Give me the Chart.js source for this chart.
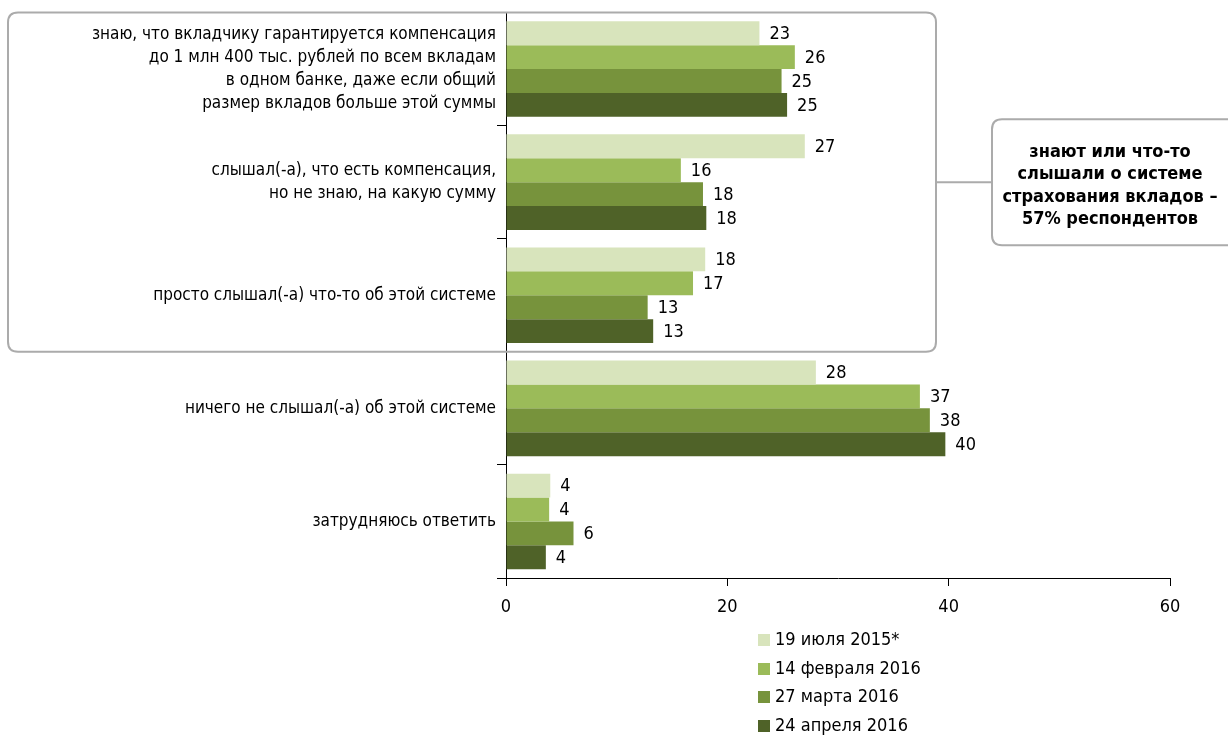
<!DOCTYPE html>
<html>
<head>
<meta charset="utf-8">
<script src="https://cdn.jsdelivr.net/npm/chart.js@4.4.0/dist/chart.umd.min.js"></script>
<style>
  body { margin: 0; background: #fff; }
  #wrap { position: relative; width: 1228px; height: 736px; overflow: hidden; }
  #legend { position: absolute; left: 758px; top: 627px; font-family: "Liberation Sans Narrow", "DejaVu Sans Condensed", sans-serif; font-size: 18px; color: #000; }
  #legend div { height: 28.5px; line-height: 24px; white-space: nowrap; }
  #legend span { display: inline-block; width: 12px; height: 12px; margin-right: 5px; vertical-align: -1px; }
</style>
</head>
<body>
<div id="wrap">
  <canvas id="chart" width="1228" height="736"></canvas>
  <div id="legend"></div>
</div>
<script>
// ---------- данные ----------
const categorias = [
  ["знаю, что вкладчику гарантируется компенсация", "до 1 млн 400 тыс. рублей по всем вкладам", "в одном банке, даже если общий", "размер вкладов больше этой суммы"],
  ["слышал(-а), что есть компенсация,", "но не знаю, на какую сумму"],
  "просто слышал(-а) что-то об этой системе",
  "ничего не слышал(-а) об этой системе",
  "затрудняюсь ответить"
];
const series = ["19 июля 2015*", "14 февраля 2016", "27 марта 2016", "24 апреля 2016"];
const julio2015 = [22.9, 27.0, 18.0, 28.0, 4.0];
const febrero2016 = [26.1, 15.8, 16.9, 37.4, 3.9];
const marzo2016 = [24.9, 17.8, 12.8, 38.3, 6.1];
const abril2016 = [25.4, 18.1, 13.3, 39.7, 3.6];
const ticksX = [0, 20, 40, 60];
const calloutTexto = ["знают или что-то", "слышали о системе", "страхования вкладов –", "57% респондентов"];

const colores = ["#d8e4bc", "#9bbb59", "#77933c", "#4f6228"];
const FONT = '"Liberation Sans Narrow", "DejaVu Sans Condensed", sans-serif';

// ---------- рамка и выноска ----------
function roundRect(ctx, x, y, w, h, r) {
  ctx.beginPath();
  ctx.moveTo(x + r, y);
  ctx.lineTo(x + w - r, y);
  ctx.quadraticCurveTo(x + w, y, x + w, y + r);
  ctx.lineTo(x + w, y + h - r);
  ctx.quadraticCurveTo(x + w, y + h, x + w - r, y + h);
  ctx.lineTo(x + r, y + h);
  ctx.quadraticCurveTo(x, y + h, x, y + h - r);
  ctx.lineTo(x, y + r);
  ctx.quadraticCurveTo(x, y, x + r, y);
  ctx.closePath();
}

const ramka = {
  id: "ramka",
  beforeDatasetsDraw(chart) {
    const ctx = chart.ctx;
    const y = chart.scales.y;
    // граница между 3-й и 4-й категорией
    const bottom = (y.getPixelForValue(2) + y.getPixelForValue(3)) / 2;
    const top = chart.chartArea.top;
    const right = 936;
    ctx.save();
    ctx.strokeStyle = "#ababab";
    ctx.lineWidth = 2;
    roundRect(ctx, 8, top, right - 8, bottom - top, 10);
    ctx.stroke();
    const midY = (top + bottom) / 2;
    ctx.beginPath();
    ctx.moveTo(right, midY);
    ctx.lineTo(992, midY);
    ctx.stroke();
    roundRect(ctx, 992, midY - 63, 260, 126, 10);
    ctx.fillStyle = "#fff";
    ctx.fill();
    ctx.stroke();
    ctx.fillStyle = "#000";
    ctx.font = "bold 18px " + FONT;
    ctx.textAlign = "center";
    ctx.textBaseline = "middle";
    calloutTexto.forEach((t, i) => ctx.fillText(t, 1110, midY - 30 + i * 22.5));
    ctx.restore();
  }
};

// ---------- подписи значений ----------
const subtitulos = {
  id: "subtitulos",
  afterDatasetsDraw(chart) {
    const ctx = chart.ctx;
    ctx.save();
    ctx.fillStyle = "#000";
    ctx.font = "18px " + FONT;
    ctx.textAlign = "left";
    ctx.textBaseline = "middle";
    chart.data.datasets.forEach((ds, i) => {
      chart.getDatasetMeta(i).data.forEach((bar, j) => {
        ctx.fillText(Math.round(ds.data[j]), bar.x + 10, bar.y + 1);
      });
    });
    ctx.restore();
  }
};

const datos = [julio2015, febrero2016, marzo2016, abril2016];

const chart = new Chart(document.getElementById("chart"), {
  type: "bar",
  data: {
    labels: categorias,
    datasets: series.map((s, i) => ({
      label: s,
      data: datos[i],
      backgroundColor: colores[i],
      borderWidth: 0,
      categoryPercentage: 0.845,
      barPercentage: 1
    }))
  },
  options: {
    indexAxis: "y",
    responsive: false,
    animation: false,
    layout: { padding: { top: 10, right: 58, left: 0, bottom: 0 } },
    plugins: {
      legend: { display: false },
      tooltip: { enabled: false }
    },
    scales: {
      x: {
        min: 0,
        max: 60,
        afterBuildTicks(s) { s.ticks = ticksX.map(v => ({ value: v })); },
        grid: { drawOnChartArea: false, drawTicks: true, tickLength: 8, color: "#000" },
        border: { color: "#000" },
        ticks: { color: "#000", padding: 11, font: { family: FONT, size: 18 } },
        afterFit(s) { s.height = 158; }
      },
      y: {
        grid: { drawOnChartArea: false, drawTicks: true, tickLength: 9, color: "#000", offset: true },
        border: { color: "#000" },
        ticks: { color: "#000", padding: 1, font: { family: FONT, size: 17, lineHeight: "23px" } },
        afterFit(s) { s.width = 506; }
      }
    }
  },
  plugins: [ramka, subtitulos]
});

// ---------- легенда ----------
const legend = document.getElementById("legend");
series.forEach((s, i) => {
  const row = document.createElement("div");
  row.innerHTML = `<span style="background:${colores[i]}"></span>${s}`;
  legend.appendChild(row);
});
</script>
</body>
</html>
